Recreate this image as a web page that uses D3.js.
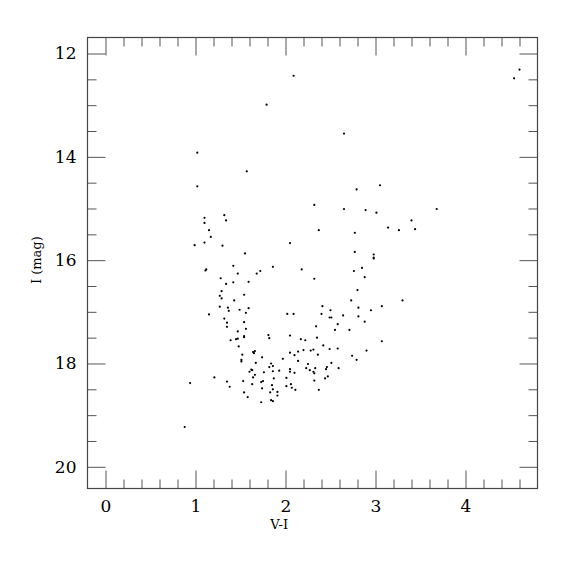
<!DOCTYPE html>
<html lang="en">
<head>
    <meta charset="UTF-8">
    <title>Colour-magnitude diagram</title>
    <script src="https://d3js.org/d3.v7.min.js"></script>
    <style>
        body { margin: 0; background: #fff; }
        svg text { font-family: "DejaVu Serif", "Liberation Serif", serif; fill: #000; }
    </style>
</head>
<body>
<div id="chart"></div>

<script>
// star colours (V-I) and magnitudes (I)
const colorVI = [
    1.02, 1.57, 1.02, 1.32, 1.10, 1.34, 1.10, 1.15, 1.17, 0.99, 1.10, 1.30, 2.05, 1.55, 1.42, 1.11, 1.12, 1.47, 1.28, 1.68, 1.72, 1.86,
    1.34, 1.42, 1.59, 1.29, 1.27, 1.29, 1.54, 1.43, 1.27, 1.36, 1.37, 1.49, 1.59, 1.56, 1.15, 2.02, 2.09, 1.32, 1.35, 1.54, 1.35, 1.56,
    1.47, 1.54, 1.54, 1.47, 1.45, 1.39, 1.81, 1.82, 2.05, 1.48, 1.52, 1.51, 1.51, 1.64, 1.65, 1.66, 1.67, 1.74, 1.84, 1.86, 1.82, 1.93,
    1.86, 1.76, 1.60, 1.63, 1.62, 1.66, 1.64, 1.21, 0.94, 1.35, 1.38, 1.53, 1.63, 1.73, 1.75, 1.87, 2.01, 2.05, 2.05, 2.10, 2.05, 2.10,
    2.14, 1.97, 2.06, 2.01, 2.07, 2.11, 1.85, 1.86, 1.74, 1.83, 1.91, 1.91, 1.54, 1.58, 1.73, 1.84, 1.86,
    2.65, 3.05, 2.79, 2.32, 2.65, 2.89, 3.01, 3.68, 3.40, 3.14, 3.26, 3.44, 2.37, 2.77, 2.77, 2.98, 2.98, 2.98, 2.18, 2.32, 2.85, 2.76, 2.88,
    2.80, 2.73, 3.30, 3.07, 2.95, 2.81, 2.81, 2.88, 2.41, 2.50, 2.40, 2.64, 2.49, 2.51, 2.58, 2.34, 2.55, 2.71, 2.17, 2.22, 2.35, 3.07,
    2.42, 2.49, 2.58, 2.90, 2.20, 2.28, 2.31, 2.36, 2.14, 2.74, 2.79, 2.25, 2.51, 2.59, 2.46, 2.45, 2.23, 2.27, 2.33, 2.31, 2.32, 2.47,
    2.44, 2.32, 2.37,
    4.60, 4.54, 2.09, 1.79, 0.88
];
const magI = [
    13.92, 14.28, 14.57, 15.13, 15.18, 15.23, 15.28, 15.42, 15.55, 15.71, 15.66, 15.72, 15.67, 15.87, 16.11, 16.20, 16.18, 16.26, 16.35, 16.26, 16.21, 16.13,
    16.46, 16.43, 16.42, 16.60, 16.69, 16.74, 16.67, 16.78, 16.90, 16.92, 16.98, 16.96, 16.93, 17.02, 17.05, 17.04, 17.04, 17.13, 17.21, 17.20, 17.29, 17.33,
    17.38, 17.47, 17.49, 17.52, 17.53, 17.55, 17.45, 17.51, 17.46, 17.67, 17.83, 17.93, 17.96, 17.78, 17.80, 17.76, 17.99, 17.88, 18.00, 18.05, 18.07, 18.14,
    18.15, 18.17, 18.16, 18.13, 18.12, 18.22, 18.27, 18.27, 18.38, 18.35, 18.45, 18.34, 18.40, 18.36, 18.34, 18.29, 18.28, 18.16, 18.11, 18.18, 17.79, 17.84,
    17.77, 17.91, 18.40, 18.44, 18.47, 18.51, 18.42, 18.50, 18.48, 18.56, 18.55, 18.62, 18.56, 18.65, 18.75, 18.71, 18.73,
    13.55, 14.55, 14.63, 14.93, 15.01, 15.03, 15.08, 15.01, 15.23, 15.37, 15.42, 15.40, 15.42, 15.47, 15.84, 15.89, 15.95, 15.97, 16.18, 16.36, 16.15, 16.21, 16.33,
    16.58, 16.78, 16.78, 16.89, 16.97, 16.92, 17.09, 17.19, 16.89, 16.97, 17.04, 17.07, 17.11, 17.11, 17.24, 17.28, 17.35, 17.35, 17.53, 17.55, 17.50, 17.57,
    17.65, 17.72, 17.71, 17.75, 17.74, 17.75, 17.73, 17.83, 17.95, 17.85, 17.93, 18.01, 17.99, 18.09, 18.07, 18.11, 18.09, 18.13, 18.09, 18.16, 18.19, 18.25,
    18.29, 18.33, 18.51,
    12.31, 12.48, 12.43, 12.99, 19.23
];

const xMajor = [0, 1, 2, 3, 4];
const yMajor = [12, 14, 16, 18, 20];

const width = 575, height = 575;
const margin = {top: 37.5, right: 37.5, bottom: 86.5, left: 87.5};
const w = width - margin.left - margin.right;
const h = height - margin.top - margin.bottom;

const svg = d3.select("#chart").append("svg")
    .attr("width", width)
    .attr("height", height);

const g = svg.append("g")
    .attr("transform", `translate(${margin.left},${margin.top})`);

const x = d3.scaleLinear().domain([-0.2, 4.8]).range([0, w]);
const y = d3.scaleLinear().domain([11.69, 20.42]).range([0, h]);

const xMinor = d3.range(-0.2, 4.81, 0.2).map(v => +v.toFixed(1)).filter(v => !xMajor.includes(v) && v > -0.2 && v < 4.8);
const yMinor = d3.range(12, 20.01, 0.5).filter(v => !yMajor.includes(v));

const tickColor = "#555";
const bigTick = 18, smallTick = 9;

// inward ticks on all four sides
function ticks(axis, len, pad) {
    return axis.tickSize(-len).tickPadding(pad);
}

g.append("g")
    .attr("transform", `translate(0,${h})`)
    .call(ticks(d3.axisBottom(x).tickValues(xMajor).tickFormat(d3.format("d")), bigTick, 11));
g.append("g")
    .attr("transform", `translate(0,${h})`)
    .call(ticks(d3.axisBottom(x).tickValues(xMinor).tickFormat(""), smallTick, 0));
g.append("g")
    .call(ticks(d3.axisTop(x).tickValues(xMajor).tickFormat(""), bigTick, 0));
g.append("g")
    .call(ticks(d3.axisTop(x).tickValues(xMinor).tickFormat(""), smallTick, 0));

g.append("g")
    .call(ticks(d3.axisLeft(y).tickValues(yMajor).tickFormat(d3.format("d")), bigTick, 11));
g.append("g")
    .call(ticks(d3.axisLeft(y).tickValues(yMinor).tickFormat(""), smallTick, 0));
g.append("g")
    .attr("transform", `translate(${w},0)`)
    .call(ticks(d3.axisRight(y).tickValues(yMajor).tickFormat(""), bigTick, 0));
g.append("g")
    .attr("transform", `translate(${w},0)`)
    .call(ticks(d3.axisRight(y).tickValues(yMinor).tickFormat(""), smallTick, 0));

g.selectAll(".domain").remove();
g.selectAll(".tick line").attr("stroke", tickColor).attr("stroke-width", 1);
g.selectAll(".tick text")
    .style("font-size", "17px")
    .attr("fill", "#000");

g.append("rect")
    .attr("width", w)
    .attr("height", h)
    .attr("fill", "none")
    .attr("stroke", "#444")
    .attr("stroke-width", 1.2);

g.selectAll("circle.star")
    .data(d3.range(colorVI.length))
    .join("circle")
    .attr("class", "star")
    .attr("cx", i => x(colorVI[i]))
    .attr("cy", i => y(magI[i]))
    .attr("r", 1.1)
    .attr("fill", "#000");

svg.append("text")
    .attr("x", margin.left + x(1.93))
    .attr("y", 529)
    .attr("text-anchor", "middle")
    .style("font-size", "13px")
    .text("V-I");

svg.append("text")
    .attr("transform", `translate(41,${margin.top + y(16)}) rotate(-90)`)
    .attr("text-anchor", "middle")
    .style("font-size", "13px")
    .text("I (mag)");
</script>
</body>
</html>
